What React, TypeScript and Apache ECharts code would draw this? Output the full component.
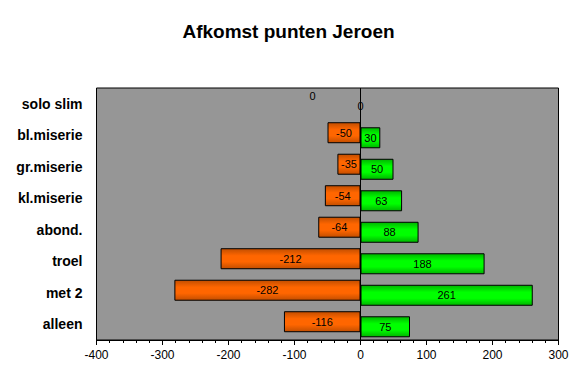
import React, { useEffect, useRef } from "react";
import * as echarts from "echarts";

const categories = ["alleen", "met 2", "troel", "abond.", "kl.miserie", "gr.miserie", "bl.miserie", "solo slim"];
const negativeValues = [-116, -282, -212, -64, -54, -35, -50, 0];
const positiveValues = [75, 261, 188, 88, 63, 50, 30, 0];
const xTicks = { min: -400, max: 300, interval: 100 };

const grad = (edge: string, mid: string) =>
  new echarts.graphic.LinearGradient(0, 0, 0, 1, [
    { offset: 0, color: edge },
    { offset: 0.35, color: mid },
    { offset: 0.65, color: mid },
    { offset: 1, color: edge },
  ]);

export default function App() {
  const ref = useRef<HTMLDivElement>(null);
  useEffect(() => {
    const chart = echarts.init(ref.current!, null, { renderer: "svg" });
    const font = "Arial, 'Liberation Sans', sans-serif";
    const labelStyle = {
      show: true,
      position: "inside",
      color: "#000",
      fontSize: 11,
      fontFamily: font,
    };
    chart.setOption({
      animation: false,
      backgroundColor: "#fff",
      title: {
        text: "Afkomst punten Jeroen",
        left: "center",
        top: 17,
        textStyle: { fontSize: 19, fontWeight: "bold", color: "#000", fontFamily: font },
      },
      grid: {
        left: 96.5,
        right: 18.5,
        top: 88,
        bottom: 36,
        show: true,
        backgroundColor: "#969696",
        borderColor: "#000",
        borderWidth: 1,
      },
      xAxis: {
        type: "value",
        min: xTicks.min,
        max: xTicks.max,
        interval: xTicks.interval,
        axisLine: { show: true, lineStyle: { color: "#000" } },
        axisTick: { show: true, length: 5, lineStyle: { color: "#000" } },
        minorTick: { show: true, splitNumber: 5, length: 3, lineStyle: { color: "#000" } },
        splitLine: { show: false },
        axisLabel: { color: "#000", fontSize: 12, fontFamily: font, margin: 9 },
      },
      yAxis: {
        type: "category",
        data: categories,
        axisLine: { show: false, onZero: false },
        axisTick: { show: false },
        axisLabel: { color: "#000", fontSize: 14, fontWeight: "bold", fontFamily: font, margin: 14 },
      },
      series: [
        {
          type: "bar",
          data: negativeValues.map((v, i) =>
            i === negativeValues.length - 1
              ? { value: v, label: { offset: [-48, -5] } }
              : v
          ),
          barWidth: 21,
          barGap: "-76%",
          itemStyle: { color: grad("#C24E00", "#FF6600"), borderColor: "#000", borderWidth: 1 },
          label: labelStyle,
          markLine: {
            silent: true,
            symbol: "none",
            label: { show: false },
            lineStyle: { color: "#000", type: "solid", width: 1 },
            data: [{ xAxis: 0 }],
          },
        },
        {
          type: "bar",
          data: positiveValues,
          barWidth: 21,
          barGap: "-76%",
          itemStyle: { color: grad("#00B400", "#00FF00"), borderColor: "#000", borderWidth: 1 },
          label: labelStyle,
        },
      ],
    });
    return () => chart.dispose();
  }, []);
  return <div ref={ref} style={{ width: 577, height: 376, position: "absolute", left: 0, top: 0 }} />;
}
